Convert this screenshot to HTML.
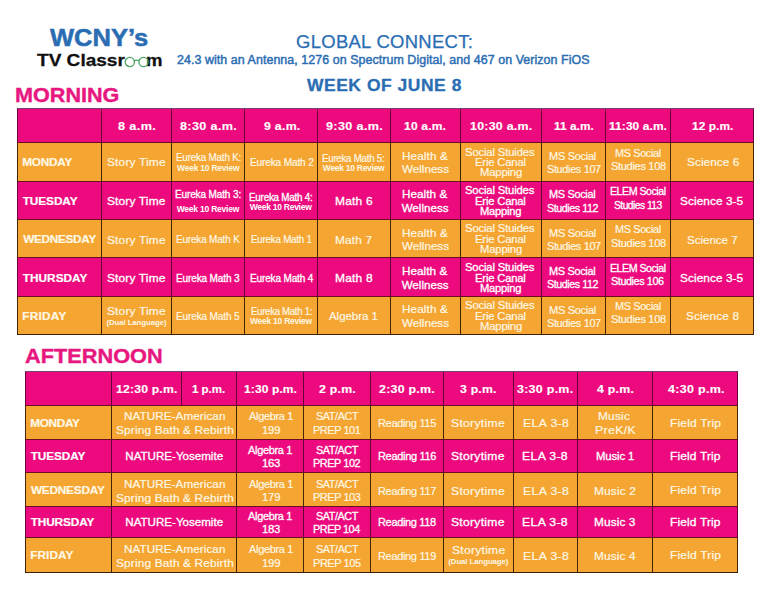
<!DOCTYPE html>
<html><head><meta charset="utf-8"><title>WCNY TV Classroom - Global Connect</title>
<style>
*{margin:0;padding:0;box-sizing:border-box}
html,body{width:768px;height:593px;background:#fff;overflow:hidden;font-family:"Liberation Sans",sans-serif}
.bg,.hl,.vl,.t,.gl{position:absolute}
.hl{height:1px;background:#3a2626}
.vl{width:1px;background:#3a2626}
.t{white-space:nowrap}
</style></head><body>
<div class="bg" style="left:17.50px;top:108.50px;width:736.00px;height:33.50px;background:#ec0a7e"></div>
<div class="bg" style="left:17.50px;top:142.00px;width:736.00px;height:39.00px;background:#f5a532"></div>
<div class="bg" style="left:17.50px;top:181.00px;width:736.00px;height:38.00px;background:#ec0a7e"></div>
<div class="bg" style="left:17.50px;top:219.00px;width:736.00px;height:38.00px;background:#f5a532"></div>
<div class="bg" style="left:17.50px;top:257.00px;width:736.00px;height:39.00px;background:#ec0a7e"></div>
<div class="bg" style="left:17.50px;top:296.00px;width:736.00px;height:38.00px;background:#f5a532"></div>
<div class="vl" style="left:17.00px;top:108.00px;height:34.50px;background:#660536"></div>
<div class="vl" style="left:100.50px;top:108.00px;height:34.50px;background:#660536"></div>
<div class="vl" style="left:170.50px;top:108.00px;height:34.50px;background:#660536"></div>
<div class="vl" style="left:244.00px;top:108.00px;height:34.50px;background:#660536"></div>
<div class="vl" style="left:317.00px;top:108.00px;height:34.50px;background:#660536"></div>
<div class="vl" style="left:389.50px;top:108.00px;height:34.50px;background:#660536"></div>
<div class="vl" style="left:459.50px;top:108.00px;height:34.50px;background:#660536"></div>
<div class="vl" style="left:540.50px;top:108.00px;height:34.50px;background:#660536"></div>
<div class="vl" style="left:604.50px;top:108.00px;height:34.50px;background:#660536"></div>
<div class="vl" style="left:670.00px;top:108.00px;height:34.50px;background:#660536"></div>
<div class="vl" style="left:753.00px;top:108.00px;height:34.50px;background:#660536"></div>
<div class="vl" style="left:17.00px;top:141.50px;height:40.00px;background:#452508"></div>
<div class="vl" style="left:100.50px;top:141.50px;height:40.00px;background:#452508"></div>
<div class="vl" style="left:170.50px;top:141.50px;height:40.00px;background:#452508"></div>
<div class="vl" style="left:244.00px;top:141.50px;height:40.00px;background:#452508"></div>
<div class="vl" style="left:317.00px;top:141.50px;height:40.00px;background:#452508"></div>
<div class="vl" style="left:389.50px;top:141.50px;height:40.00px;background:#452508"></div>
<div class="vl" style="left:459.50px;top:141.50px;height:40.00px;background:#452508"></div>
<div class="vl" style="left:540.50px;top:141.50px;height:40.00px;background:#452508"></div>
<div class="vl" style="left:604.50px;top:141.50px;height:40.00px;background:#452508"></div>
<div class="vl" style="left:670.00px;top:141.50px;height:40.00px;background:#452508"></div>
<div class="vl" style="left:753.00px;top:141.50px;height:40.00px;background:#452508"></div>
<div class="vl" style="left:17.00px;top:180.50px;height:39.00px;background:#660536"></div>
<div class="vl" style="left:100.50px;top:180.50px;height:39.00px;background:#660536"></div>
<div class="vl" style="left:170.50px;top:180.50px;height:39.00px;background:#660536"></div>
<div class="vl" style="left:244.00px;top:180.50px;height:39.00px;background:#660536"></div>
<div class="vl" style="left:317.00px;top:180.50px;height:39.00px;background:#660536"></div>
<div class="vl" style="left:389.50px;top:180.50px;height:39.00px;background:#660536"></div>
<div class="vl" style="left:459.50px;top:180.50px;height:39.00px;background:#660536"></div>
<div class="vl" style="left:540.50px;top:180.50px;height:39.00px;background:#660536"></div>
<div class="vl" style="left:604.50px;top:180.50px;height:39.00px;background:#660536"></div>
<div class="vl" style="left:670.00px;top:180.50px;height:39.00px;background:#660536"></div>
<div class="vl" style="left:753.00px;top:180.50px;height:39.00px;background:#660536"></div>
<div class="vl" style="left:17.00px;top:218.50px;height:39.00px;background:#452508"></div>
<div class="vl" style="left:100.50px;top:218.50px;height:39.00px;background:#452508"></div>
<div class="vl" style="left:170.50px;top:218.50px;height:39.00px;background:#452508"></div>
<div class="vl" style="left:244.00px;top:218.50px;height:39.00px;background:#452508"></div>
<div class="vl" style="left:317.00px;top:218.50px;height:39.00px;background:#452508"></div>
<div class="vl" style="left:389.50px;top:218.50px;height:39.00px;background:#452508"></div>
<div class="vl" style="left:459.50px;top:218.50px;height:39.00px;background:#452508"></div>
<div class="vl" style="left:540.50px;top:218.50px;height:39.00px;background:#452508"></div>
<div class="vl" style="left:604.50px;top:218.50px;height:39.00px;background:#452508"></div>
<div class="vl" style="left:670.00px;top:218.50px;height:39.00px;background:#452508"></div>
<div class="vl" style="left:753.00px;top:218.50px;height:39.00px;background:#452508"></div>
<div class="vl" style="left:17.00px;top:256.50px;height:40.00px;background:#660536"></div>
<div class="vl" style="left:100.50px;top:256.50px;height:40.00px;background:#660536"></div>
<div class="vl" style="left:170.50px;top:256.50px;height:40.00px;background:#660536"></div>
<div class="vl" style="left:244.00px;top:256.50px;height:40.00px;background:#660536"></div>
<div class="vl" style="left:317.00px;top:256.50px;height:40.00px;background:#660536"></div>
<div class="vl" style="left:389.50px;top:256.50px;height:40.00px;background:#660536"></div>
<div class="vl" style="left:459.50px;top:256.50px;height:40.00px;background:#660536"></div>
<div class="vl" style="left:540.50px;top:256.50px;height:40.00px;background:#660536"></div>
<div class="vl" style="left:604.50px;top:256.50px;height:40.00px;background:#660536"></div>
<div class="vl" style="left:670.00px;top:256.50px;height:40.00px;background:#660536"></div>
<div class="vl" style="left:753.00px;top:256.50px;height:40.00px;background:#660536"></div>
<div class="vl" style="left:17.00px;top:295.50px;height:39.00px;background:#452508"></div>
<div class="vl" style="left:100.50px;top:295.50px;height:39.00px;background:#452508"></div>
<div class="vl" style="left:170.50px;top:295.50px;height:39.00px;background:#452508"></div>
<div class="vl" style="left:244.00px;top:295.50px;height:39.00px;background:#452508"></div>
<div class="vl" style="left:317.00px;top:295.50px;height:39.00px;background:#452508"></div>
<div class="vl" style="left:389.50px;top:295.50px;height:39.00px;background:#452508"></div>
<div class="vl" style="left:459.50px;top:295.50px;height:39.00px;background:#452508"></div>
<div class="vl" style="left:540.50px;top:295.50px;height:39.00px;background:#452508"></div>
<div class="vl" style="left:604.50px;top:295.50px;height:39.00px;background:#452508"></div>
<div class="vl" style="left:670.00px;top:295.50px;height:39.00px;background:#452508"></div>
<div class="vl" style="left:753.00px;top:295.50px;height:39.00px;background:#452508"></div>
<div class="hl" style="left:17.00px;top:108.00px;width:737.00px;background:#7a4070"></div>
<div class="hl" style="left:17.00px;top:141.50px;width:737.00px;background:#6a0c22"></div>
<div class="hl" style="left:17.00px;top:180.50px;width:737.00px;background:#6a0c22"></div>
<div class="hl" style="left:17.00px;top:218.50px;width:737.00px;background:#6a0c22"></div>
<div class="hl" style="left:17.00px;top:256.50px;width:737.00px;background:#6a0c22"></div>
<div class="hl" style="left:17.00px;top:295.50px;width:737.00px;background:#6a0c22"></div>
<div class="hl" style="left:17.00px;top:333.50px;width:737.00px;background:#3a2208"></div>
<div class="bg" style="left:25.00px;top:371.00px;width:712.00px;height:34.00px;background:#ec0a7e"></div>
<div class="bg" style="left:25.00px;top:405.00px;width:712.00px;height:34.00px;background:#f5a532"></div>
<div class="bg" style="left:25.00px;top:439.00px;width:712.00px;height:33.50px;background:#ec0a7e"></div>
<div class="bg" style="left:25.00px;top:472.50px;width:712.00px;height:33.50px;background:#f5a532"></div>
<div class="bg" style="left:25.00px;top:506.00px;width:712.00px;height:31.50px;background:#ec0a7e"></div>
<div class="bg" style="left:25.00px;top:537.50px;width:712.00px;height:34.50px;background:#f5a532"></div>
<div class="vl" style="left:24.50px;top:370.50px;height:35.00px;background:#660536"></div>
<div class="vl" style="left:110.50px;top:370.50px;height:35.00px;background:#660536"></div>
<div class="vl" style="left:180.50px;top:370.50px;height:35.00px;background:#660536"></div>
<div class="vl" style="left:236.00px;top:370.50px;height:35.00px;background:#660536"></div>
<div class="vl" style="left:303.00px;top:370.50px;height:35.00px;background:#660536"></div>
<div class="vl" style="left:370.00px;top:370.50px;height:35.00px;background:#660536"></div>
<div class="vl" style="left:442.50px;top:370.50px;height:35.00px;background:#660536"></div>
<div class="vl" style="left:512.50px;top:370.50px;height:35.00px;background:#660536"></div>
<div class="vl" style="left:576.50px;top:370.50px;height:35.00px;background:#660536"></div>
<div class="vl" style="left:652.00px;top:370.50px;height:35.00px;background:#660536"></div>
<div class="vl" style="left:736.50px;top:370.50px;height:35.00px;background:#660536"></div>
<div class="vl" style="left:24.50px;top:404.50px;height:35.00px;background:#452508"></div>
<div class="vl" style="left:110.50px;top:404.50px;height:35.00px;background:#452508"></div>
<div class="vl" style="left:236.00px;top:404.50px;height:35.00px;background:#452508"></div>
<div class="vl" style="left:303.00px;top:404.50px;height:35.00px;background:#452508"></div>
<div class="vl" style="left:370.00px;top:404.50px;height:35.00px;background:#452508"></div>
<div class="vl" style="left:442.50px;top:404.50px;height:35.00px;background:#452508"></div>
<div class="vl" style="left:512.50px;top:404.50px;height:35.00px;background:#452508"></div>
<div class="vl" style="left:576.50px;top:404.50px;height:35.00px;background:#452508"></div>
<div class="vl" style="left:652.00px;top:404.50px;height:35.00px;background:#452508"></div>
<div class="vl" style="left:736.50px;top:404.50px;height:35.00px;background:#452508"></div>
<div class="vl" style="left:24.50px;top:438.50px;height:34.50px;background:#660536"></div>
<div class="vl" style="left:110.50px;top:438.50px;height:34.50px;background:#660536"></div>
<div class="vl" style="left:236.00px;top:438.50px;height:34.50px;background:#660536"></div>
<div class="vl" style="left:303.00px;top:438.50px;height:34.50px;background:#660536"></div>
<div class="vl" style="left:370.00px;top:438.50px;height:34.50px;background:#660536"></div>
<div class="vl" style="left:442.50px;top:438.50px;height:34.50px;background:#660536"></div>
<div class="vl" style="left:512.50px;top:438.50px;height:34.50px;background:#660536"></div>
<div class="vl" style="left:576.50px;top:438.50px;height:34.50px;background:#660536"></div>
<div class="vl" style="left:652.00px;top:438.50px;height:34.50px;background:#660536"></div>
<div class="vl" style="left:736.50px;top:438.50px;height:34.50px;background:#660536"></div>
<div class="vl" style="left:24.50px;top:472.00px;height:34.50px;background:#452508"></div>
<div class="vl" style="left:110.50px;top:472.00px;height:34.50px;background:#452508"></div>
<div class="vl" style="left:236.00px;top:472.00px;height:34.50px;background:#452508"></div>
<div class="vl" style="left:303.00px;top:472.00px;height:34.50px;background:#452508"></div>
<div class="vl" style="left:370.00px;top:472.00px;height:34.50px;background:#452508"></div>
<div class="vl" style="left:442.50px;top:472.00px;height:34.50px;background:#452508"></div>
<div class="vl" style="left:512.50px;top:472.00px;height:34.50px;background:#452508"></div>
<div class="vl" style="left:576.50px;top:472.00px;height:34.50px;background:#452508"></div>
<div class="vl" style="left:652.00px;top:472.00px;height:34.50px;background:#452508"></div>
<div class="vl" style="left:736.50px;top:472.00px;height:34.50px;background:#452508"></div>
<div class="vl" style="left:24.50px;top:505.50px;height:32.50px;background:#660536"></div>
<div class="vl" style="left:110.50px;top:505.50px;height:32.50px;background:#660536"></div>
<div class="vl" style="left:236.00px;top:505.50px;height:32.50px;background:#660536"></div>
<div class="vl" style="left:303.00px;top:505.50px;height:32.50px;background:#660536"></div>
<div class="vl" style="left:370.00px;top:505.50px;height:32.50px;background:#660536"></div>
<div class="vl" style="left:442.50px;top:505.50px;height:32.50px;background:#660536"></div>
<div class="vl" style="left:512.50px;top:505.50px;height:32.50px;background:#660536"></div>
<div class="vl" style="left:576.50px;top:505.50px;height:32.50px;background:#660536"></div>
<div class="vl" style="left:652.00px;top:505.50px;height:32.50px;background:#660536"></div>
<div class="vl" style="left:736.50px;top:505.50px;height:32.50px;background:#660536"></div>
<div class="vl" style="left:24.50px;top:537.00px;height:35.50px;background:#452508"></div>
<div class="vl" style="left:110.50px;top:537.00px;height:35.50px;background:#452508"></div>
<div class="vl" style="left:236.00px;top:537.00px;height:35.50px;background:#452508"></div>
<div class="vl" style="left:303.00px;top:537.00px;height:35.50px;background:#452508"></div>
<div class="vl" style="left:370.00px;top:537.00px;height:35.50px;background:#452508"></div>
<div class="vl" style="left:442.50px;top:537.00px;height:35.50px;background:#452508"></div>
<div class="vl" style="left:512.50px;top:537.00px;height:35.50px;background:#452508"></div>
<div class="vl" style="left:576.50px;top:537.00px;height:35.50px;background:#452508"></div>
<div class="vl" style="left:652.00px;top:537.00px;height:35.50px;background:#452508"></div>
<div class="vl" style="left:736.50px;top:537.00px;height:35.50px;background:#452508"></div>
<div class="hl" style="left:24.50px;top:370.50px;width:713.00px;background:#7a4070"></div>
<div class="hl" style="left:24.50px;top:404.50px;width:713.00px;background:#6a0c22"></div>
<div class="hl" style="left:24.50px;top:438.50px;width:713.00px;background:#6a0c22"></div>
<div class="hl" style="left:24.50px;top:472.00px;width:713.00px;background:#6a0c22"></div>
<div class="hl" style="left:24.50px;top:505.50px;width:713.00px;background:#6a0c22"></div>
<div class="hl" style="left:24.50px;top:537.00px;width:713.00px;background:#6a0c22"></div>
<div class="hl" style="left:24.50px;top:571.50px;width:713.00px;background:#3a2208"></div>
<div class="t" style="left:50.47px;top:26.50px;font-size:23.7px;line-height:23.7px;color:#2a6db3;font-weight:700;transform:scaleX(1.0773);transform-origin:0 0;-webkit-text-stroke:0.50px #2a6db3">WCNY’s</div>
<div class="t" style="left:37.31px;top:52.20px;font-size:17.4px;line-height:17.4px;color:#111111;font-weight:700;transform:scaleX(1.0950);transform-origin:0 0;-webkit-text-stroke:0.30px #111111">TV Classr</div>
<div class="t" style="left:146.17px;top:52.20px;font-size:17.4px;line-height:17.4px;color:#111111;font-weight:700;transform:scaleX(1.0660);transform-origin:0 0;-webkit-text-stroke:0.30px #111111">m</div>
<div class="t" style="left:296.34px;top:32.80px;font-size:18px;line-height:18px;color:#2a6db3;letter-spacing:0.30px;transform:scaleX(1.0251);transform-origin:0 0;-webkit-text-stroke:0.25px #2a6db3">GLOBAL CONNECT:</div>
<div class="t" style="left:177.23px;top:53.70px;font-size:12.3px;line-height:12.3px;color:#2a6db3;letter-spacing:0.06px;transform:scaleX(1.0106);transform-origin:0 0;-webkit-text-stroke:0.45px #2a6db3">24.3 with an Antenna, 1276 on Spectrum Digital, and 467 on Verizon FiOS</div>
<div class="t" style="left:306.62px;top:77.50px;font-size:15.6px;line-height:15.6px;color:#2a6db3;font-weight:700;letter-spacing:0.49px;transform:scaleX(1.1182);transform-origin:0 0;-webkit-text-stroke:0.30px #2a6db3">WEEK OF JUNE 8</div>
<div class="t" style="left:15.41px;top:85.90px;font-size:19.8px;line-height:19.8px;color:#e8177f;font-weight:700;transform:scaleX(1.0916);transform-origin:0 0;-webkit-text-stroke:0.40px #e8177f">MORNING</div>
<div class="t" style="left:25.35px;top:345.90px;font-size:20px;line-height:20px;color:#e8177f;font-weight:700;transform:scaleX(1.0874);transform-origin:0 0;-webkit-text-stroke:0.40px #e8177f">AFTERNOON</div>
<div class="t" style="left:117.75px;top:120.10px;font-size:11.6px;line-height:11.6px;color:#ffffff;font-weight:700;letter-spacing:0.37px;transform:scaleX(1.0886);transform-origin:0 0;-webkit-text-stroke:0.15px #ffffff">8 a.m.</div>
<div class="t" style="left:179.81px;top:120.10px;font-size:11.6px;line-height:11.6px;color:#ffffff;font-weight:700;letter-spacing:0.34px;transform:scaleX(1.0861);transform-origin:0 0;-webkit-text-stroke:0.15px #ffffff">8:30 a.m.</div>
<div class="t" style="left:263.68px;top:120.10px;font-size:11.6px;line-height:11.6px;color:#ffffff;font-weight:700;letter-spacing:0.26px;transform:scaleX(1.0619);transform-origin:0 0;-webkit-text-stroke:0.15px #ffffff">9 a.m.</div>
<div class="t" style="left:325.66px;top:120.10px;font-size:11.6px;line-height:11.6px;color:#ffffff;font-weight:700;letter-spacing:0.34px;transform:scaleX(1.0852);transform-origin:0 0;-webkit-text-stroke:0.15px #ffffff">9:30 a.m.</div>
<div class="t" style="left:404.24px;top:120.10px;font-size:11.6px;line-height:11.6px;color:#ffffff;font-weight:700;letter-spacing:0.17px;transform:scaleX(1.0400);transform-origin:0 0;-webkit-text-stroke:0.15px #ffffff">10 a.m.</div>
<div class="t" style="left:469.53px;top:120.10px;font-size:11.6px;line-height:11.6px;color:#ffffff;font-weight:700;letter-spacing:0.26px;transform:scaleX(1.0663);transform-origin:0 0;-webkit-text-stroke:0.15px #ffffff">10:30 a.m.</div>
<div class="t" style="left:553.84px;top:120.10px;font-size:11.6px;line-height:11.6px;color:#ffffff;font-weight:700;letter-spacing:0.07px;transform:scaleX(1.0169);transform-origin:0 0;-webkit-text-stroke:0.15px #ffffff">11 a.m.</div>
<div class="t" style="left:609.32px;top:120.10px;font-size:11.6px;line-height:11.6px;color:#ffffff;font-weight:700;letter-spacing:0.11px;transform:scaleX(1.0266);transform-origin:0 0;-webkit-text-stroke:0.15px #ffffff">11:30 a.m.</div>
<div class="t" style="left:691.84px;top:120.10px;font-size:11.6px;line-height:11.6px;color:#ffffff;font-weight:700;letter-spacing:0.09px;transform:scaleX(1.0210);transform-origin:0 0;-webkit-text-stroke:0.15px #ffffff">12 p.m.</div>
<div class="t" style="left:22.29px;top:156.90px;font-size:11.8px;line-height:11.8px;color:#fff8e4;font-weight:700;letter-spacing:-0.27px;-webkit-text-stroke:0.20px #fff8e4">MONDAY</div>
<div class="t" style="left:107.07px;top:156.30px;font-size:11.6px;line-height:11.6px;color:#fff8e4;letter-spacing:0.17px;transform:scaleX(1.0277);transform-origin:0 0;-webkit-text-stroke:0.20px #fff8e4">Story Time</div>
<div class="t" style="left:175.58px;top:153.30px;font-size:10.3px;line-height:10.3px;color:#fff8e4;letter-spacing:-0.22px;transform:scaleX(0.9589);transform-origin:0 0;-webkit-text-stroke:0.20px #fff8e4">Eureka Math K:</div>
<div class="t" style="left:177.05px;top:164.20px;font-size:8.5px;line-height:8.5px;color:#fff8e4;font-weight:700;letter-spacing:-0.23px">Week 10 Review</div>
<div class="t" style="left:249.54px;top:158.30px;font-size:10.3px;line-height:10.3px;color:#fff8e4;letter-spacing:-0.13px;transform:scaleX(0.9761);transform-origin:0 0;-webkit-text-stroke:0.20px #fff8e4">Eureka Math 2</div>
<div class="t" style="left:322.25px;top:153.50px;font-size:10.3px;line-height:10.3px;color:#fff8e4;letter-spacing:-0.28px;transform:scaleX(0.9456);transform-origin:0 0;-webkit-text-stroke:0.20px #fff8e4">Eureka Math 5:</div>
<div class="t" style="left:322.84px;top:164.20px;font-size:8.5px;line-height:8.5px;color:#fff8e4;font-weight:700;letter-spacing:-0.28px">Week 10 Review</div>
<div class="t" style="left:402.46px;top:150.00px;font-size:11.6px;line-height:11.6px;color:#fff8e4;letter-spacing:0.09px;transform:scaleX(1.0143);transform-origin:0 0;-webkit-text-stroke:0.20px #fff8e4">Health &amp;</div>
<div class="t" style="left:401.97px;top:163.30px;font-size:11.6px;line-height:11.6px;color:#fff8e4;letter-spacing:0.01px;transform:scaleX(1.0023);transform-origin:0 0;-webkit-text-stroke:0.20px #fff8e4">Wellness</div>
<div class="t" style="left:465.41px;top:146.00px;font-size:11.6px;line-height:11.6px;color:#fff8e4;letter-spacing:-0.15px;transform:scaleX(0.9736);transform-origin:0 0;-webkit-text-stroke:0.20px #fff8e4">Social Stuides</div>
<div class="t" style="left:475.17px;top:156.00px;font-size:11.6px;line-height:11.6px;color:#fff8e4;letter-spacing:-0.17px;transform:scaleX(0.9708);transform-origin:0 0;-webkit-text-stroke:0.20px #fff8e4">Erie Canal</div>
<div class="t" style="left:479.79px;top:166.00px;font-size:11.6px;line-height:11.6px;color:#fff8e4;letter-spacing:-0.19px;transform:scaleX(0.9731);transform-origin:0 0;-webkit-text-stroke:0.20px #fff8e4">Mapping</div>
<div class="t" style="left:549.31px;top:150.00px;font-size:11.6px;line-height:11.6px;color:#fff8e4;letter-spacing:-0.31px;transform:scaleX(0.9506);transform-origin:0 0;-webkit-text-stroke:0.20px #fff8e4">MS Social</div>
<div class="t" style="left:546.51px;top:163.30px;font-size:11.6px;line-height:11.6px;color:#fff8e4;letter-spacing:-0.36px;transform:scaleX(0.9401);transform-origin:0 0;-webkit-text-stroke:0.20px #fff8e4">Studies 107</div>
<div class="t" style="left:614.67px;top:146.70px;font-size:11.6px;line-height:11.6px;color:#fff8e4;letter-spacing:-0.38px;transform:scaleX(0.9378);transform-origin:0 0;-webkit-text-stroke:0.20px #fff8e4">MS Social</div>
<div class="t" style="left:610.88px;top:160.00px;font-size:11.6px;line-height:11.6px;color:#fff8e4;letter-spacing:-0.31px;transform:scaleX(0.9482);transform-origin:0 0;-webkit-text-stroke:0.20px #fff8e4">Studies 108</div>
<div class="t" style="left:686.54px;top:156.30px;font-size:11.6px;line-height:11.6px;color:#fff8e4;letter-spacing:0.08px;transform:scaleX(1.0137);transform-origin:0 0;-webkit-text-stroke:0.20px #fff8e4">Science 6</div>
<div class="t" style="left:22.68px;top:195.80px;font-size:11.8px;line-height:11.8px;color:#ffffff;font-weight:700;letter-spacing:-0.06px;-webkit-text-stroke:0.20px #ffffff">TUESDAY</div>
<div class="t" style="left:106.86px;top:195.20px;font-size:11.6px;line-height:11.6px;color:#ffffff;letter-spacing:0.16px;transform:scaleX(1.0261);transform-origin:0 0;-webkit-text-stroke:0.32px #ffffff">Story Time</div>
<div class="t" style="left:175.19px;top:190.30px;font-size:10.3px;line-height:10.3px;color:#ffffff;letter-spacing:-0.14px;transform:scaleX(0.9729);transform-origin:0 0;-webkit-text-stroke:0.32px #ffffff">Eureka Math 3:</div>
<div class="t" style="left:176.69px;top:205.30px;font-size:8.5px;line-height:8.5px;color:#ffffff;font-weight:700;letter-spacing:-0.22px">Week 10 Review</div>
<div class="t" style="left:249.40px;top:192.70px;font-size:10.3px;line-height:10.3px;color:#ffffff;letter-spacing:-0.23px;transform:scaleX(0.9549);transform-origin:0 0;-webkit-text-stroke:0.32px #ffffff">Eureka Math 4:</div>
<div class="t" style="left:249.78px;top:203.00px;font-size:8.5px;line-height:8.5px;color:#ffffff;font-weight:700;letter-spacing:-0.27px">Week 10 Review</div>
<div class="t" style="left:334.64px;top:195.20px;font-size:11.6px;line-height:11.6px;color:#ffffff;letter-spacing:0.20px;transform:scaleX(1.0305);transform-origin:0 0;-webkit-text-stroke:0.32px #ffffff">Math 6</div>
<div class="t" style="left:401.77px;top:188.30px;font-size:11.6px;line-height:11.6px;color:#ffffff;letter-spacing:0.05px;transform:scaleX(1.0084);transform-origin:0 0;-webkit-text-stroke:0.32px #ffffff">Health &amp;</div>
<div class="t" style="left:401.64px;top:202.30px;font-size:11.6px;line-height:11.6px;color:#ffffff;letter-spacing:0.01px;-webkit-text-stroke:0.32px #ffffff">Wellness</div>
<div class="t" style="left:465.32px;top:184.00px;font-size:11.6px;line-height:11.6px;color:#ffffff;letter-spacing:-0.16px;transform:scaleX(0.9711);transform-origin:0 0;-webkit-text-stroke:0.32px #ffffff">Social Stuides</div>
<div class="t" style="left:475.02px;top:195.00px;font-size:11.6px;line-height:11.6px;color:#ffffff;letter-spacing:-0.18px;transform:scaleX(0.9682);transform-origin:0 0;-webkit-text-stroke:0.32px #ffffff">Erie Canal</div>
<div class="t" style="left:479.62px;top:205.00px;font-size:11.6px;line-height:11.6px;color:#ffffff;letter-spacing:-0.24px;transform:scaleX(0.9668);transform-origin:0 0;-webkit-text-stroke:0.32px #ffffff">Mapping</div>
<div class="t" style="left:549.24px;top:188.30px;font-size:11.6px;line-height:11.6px;color:#ffffff;letter-spacing:-0.35px;transform:scaleX(0.9427);transform-origin:0 0;-webkit-text-stroke:0.32px #ffffff">MS Social</div>
<div class="t" style="left:547.35px;top:201.70px;font-size:11.6px;line-height:11.6px;color:#ffffff;letter-spacing:-0.46px;transform:scaleX(0.9220);transform-origin:0 0;-webkit-text-stroke:0.32px #ffffff">Studies 112</div>
<div class="t" style="left:610.34px;top:185.00px;font-size:11.6px;line-height:11.6px;color:#ffffff;letter-spacing:-0.53px;transform:scaleX(0.9172);transform-origin:0 0;-webkit-text-stroke:0.32px #ffffff">ELEM Social</div>
<div class="t" style="left:613.94px;top:199.00px;font-size:11.6px;line-height:11.6px;color:#ffffff;letter-spacing:-0.63px;transform:scaleX(0.8924);transform-origin:0 0;-webkit-text-stroke:0.32px #ffffff">Studies 113</div>
<div class="t" style="left:680.32px;top:195.20px;font-size:11.6px;line-height:11.6px;color:#ffffff;letter-spacing:0.09px;transform:scaleX(1.0156);transform-origin:0 0;-webkit-text-stroke:0.32px #ffffff">Science 3-5</div>
<div class="t" style="left:23.21px;top:234.10px;font-size:11.8px;line-height:11.8px;color:#fff8e4;font-weight:700;letter-spacing:-0.31px;-webkit-text-stroke:0.20px #fff8e4">WEDNESDAY</div>
<div class="t" style="left:107.07px;top:233.80px;font-size:11.6px;line-height:11.6px;color:#fff8e4;letter-spacing:0.17px;transform:scaleX(1.0277);transform-origin:0 0;-webkit-text-stroke:0.20px #fff8e4">Story Time</div>
<div class="t" style="left:176.27px;top:235.30px;font-size:10.3px;line-height:10.3px;color:#fff8e4;letter-spacing:-0.18px;transform:scaleX(0.9670);transform-origin:0 0;-webkit-text-stroke:0.20px #fff8e4">Eureka Math K</div>
<div class="t" style="left:251.21px;top:235.30px;font-size:10.3px;line-height:10.3px;color:#fff8e4;letter-spacing:-0.25px;transform:scaleX(0.9537);transform-origin:0 0;-webkit-text-stroke:0.20px #fff8e4">Eureka Math 1</div>
<div class="t" style="left:335.32px;top:233.80px;font-size:11.6px;line-height:11.6px;color:#fff8e4;letter-spacing:0.17px;transform:scaleX(1.0257);transform-origin:0 0;-webkit-text-stroke:0.20px #fff8e4">Math 7</div>
<div class="t" style="left:402.46px;top:226.70px;font-size:11.6px;line-height:11.6px;color:#fff8e4;letter-spacing:0.09px;transform:scaleX(1.0143);transform-origin:0 0;-webkit-text-stroke:0.20px #fff8e4">Health &amp;</div>
<div class="t" style="left:401.97px;top:240.00px;font-size:11.6px;line-height:11.6px;color:#fff8e4;letter-spacing:0.01px;transform:scaleX(1.0023);transform-origin:0 0;-webkit-text-stroke:0.20px #fff8e4">Wellness</div>
<div class="t" style="left:465.41px;top:222.00px;font-size:11.6px;line-height:11.6px;color:#fff8e4;letter-spacing:-0.15px;transform:scaleX(0.9736);transform-origin:0 0;-webkit-text-stroke:0.20px #fff8e4">Social Stuides</div>
<div class="t" style="left:475.17px;top:233.00px;font-size:11.6px;line-height:11.6px;color:#fff8e4;letter-spacing:-0.17px;transform:scaleX(0.9708);transform-origin:0 0;-webkit-text-stroke:0.20px #fff8e4">Erie Canal</div>
<div class="t" style="left:479.79px;top:243.00px;font-size:11.6px;line-height:11.6px;color:#fff8e4;letter-spacing:-0.19px;transform:scaleX(0.9731);transform-origin:0 0;-webkit-text-stroke:0.20px #fff8e4">Mapping</div>
<div class="t" style="left:549.31px;top:226.70px;font-size:11.6px;line-height:11.6px;color:#fff8e4;letter-spacing:-0.31px;transform:scaleX(0.9506);transform-origin:0 0;-webkit-text-stroke:0.20px #fff8e4">MS Social</div>
<div class="t" style="left:546.51px;top:240.00px;font-size:11.6px;line-height:11.6px;color:#fff8e4;letter-spacing:-0.36px;transform:scaleX(0.9401);transform-origin:0 0;-webkit-text-stroke:0.20px #fff8e4">Studies 107</div>
<div class="t" style="left:614.67px;top:223.30px;font-size:11.6px;line-height:11.6px;color:#fff8e4;letter-spacing:-0.38px;transform:scaleX(0.9378);transform-origin:0 0;-webkit-text-stroke:0.20px #fff8e4">MS Social</div>
<div class="t" style="left:610.88px;top:236.70px;font-size:11.6px;line-height:11.6px;color:#fff8e4;letter-spacing:-0.31px;transform:scaleX(0.9482);transform-origin:0 0;-webkit-text-stroke:0.20px #fff8e4">Studies 108</div>
<div class="t" style="left:686.53px;top:233.50px;font-size:11.6px;line-height:11.6px;color:#fff8e4;letter-spacing:-0.02px;transform:scaleX(0.9973);transform-origin:0 0;-webkit-text-stroke:0.20px #fff8e4">Science 7</div>
<div class="t" style="left:22.68px;top:272.60px;font-size:11.8px;line-height:11.8px;color:#ffffff;font-weight:700;letter-spacing:0.05px;-webkit-text-stroke:0.20px #ffffff">THURSDAY</div>
<div class="t" style="left:106.86px;top:272.30px;font-size:11.6px;line-height:11.6px;color:#ffffff;letter-spacing:0.16px;transform:scaleX(1.0261);transform-origin:0 0;-webkit-text-stroke:0.32px #ffffff">Story Time</div>
<div class="t" style="left:176.19px;top:273.70px;font-size:10.3px;line-height:10.3px;color:#ffffff;letter-spacing:-0.14px;transform:scaleX(0.9743);transform-origin:0 0;-webkit-text-stroke:0.32px #ffffff">Eureka Math 3</div>
<div class="t" style="left:249.70px;top:273.70px;font-size:10.3px;line-height:10.3px;color:#ffffff;letter-spacing:-0.15px;transform:scaleX(0.9717);transform-origin:0 0;-webkit-text-stroke:0.32px #ffffff">Eureka Math 4</div>
<div class="t" style="left:334.64px;top:272.00px;font-size:11.6px;line-height:11.6px;color:#ffffff;letter-spacing:0.20px;transform:scaleX(1.0302);transform-origin:0 0;-webkit-text-stroke:0.32px #ffffff">Math 8</div>
<div class="t" style="left:401.77px;top:265.00px;font-size:11.6px;line-height:11.6px;color:#ffffff;letter-spacing:0.05px;transform:scaleX(1.0084);transform-origin:0 0;-webkit-text-stroke:0.32px #ffffff">Health &amp;</div>
<div class="t" style="left:401.64px;top:278.70px;font-size:11.6px;line-height:11.6px;color:#ffffff;letter-spacing:0.01px;-webkit-text-stroke:0.32px #ffffff">Wellness</div>
<div class="t" style="left:465.32px;top:261.00px;font-size:11.6px;line-height:11.6px;color:#ffffff;letter-spacing:-0.16px;transform:scaleX(0.9711);transform-origin:0 0;-webkit-text-stroke:0.32px #ffffff">Social Stuides</div>
<div class="t" style="left:475.02px;top:272.00px;font-size:11.6px;line-height:11.6px;color:#ffffff;letter-spacing:-0.18px;transform:scaleX(0.9682);transform-origin:0 0;-webkit-text-stroke:0.32px #ffffff">Erie Canal</div>
<div class="t" style="left:479.62px;top:282.00px;font-size:11.6px;line-height:11.6px;color:#ffffff;letter-spacing:-0.24px;transform:scaleX(0.9668);transform-origin:0 0;-webkit-text-stroke:0.32px #ffffff">Mapping</div>
<div class="t" style="left:549.24px;top:265.00px;font-size:11.6px;line-height:11.6px;color:#ffffff;letter-spacing:-0.35px;transform:scaleX(0.9427);transform-origin:0 0;-webkit-text-stroke:0.32px #ffffff">MS Social</div>
<div class="t" style="left:547.35px;top:278.30px;font-size:11.6px;line-height:11.6px;color:#ffffff;letter-spacing:-0.46px;transform:scaleX(0.9220);transform-origin:0 0;-webkit-text-stroke:0.32px #ffffff">Studies 112</div>
<div class="t" style="left:610.34px;top:261.70px;font-size:11.6px;line-height:11.6px;color:#ffffff;letter-spacing:-0.53px;transform:scaleX(0.9172);transform-origin:0 0;-webkit-text-stroke:0.32px #ffffff">ELEM Social</div>
<div class="t" style="left:611.34px;top:275.30px;font-size:11.6px;line-height:11.6px;color:#ffffff;letter-spacing:-0.42px;transform:scaleX(0.9292);transform-origin:0 0;-webkit-text-stroke:0.32px #ffffff">Studies 106</div>
<div class="t" style="left:680.32px;top:272.20px;font-size:11.6px;line-height:11.6px;color:#ffffff;letter-spacing:0.09px;transform:scaleX(1.0156);transform-origin:0 0;-webkit-text-stroke:0.32px #ffffff">Science 3-5</div>
<div class="t" style="left:22.29px;top:310.60px;font-size:11.8px;line-height:11.8px;color:#fff8e4;font-weight:700;letter-spacing:0.24px;-webkit-text-stroke:0.20px #fff8e4">FRIDAY</div>
<div class="t" style="left:107.07px;top:305.00px;font-size:11.6px;line-height:11.6px;color:#fff8e4;letter-spacing:0.17px;transform:scaleX(1.0277);transform-origin:0 0;-webkit-text-stroke:0.20px #fff8e4">Story Time</div>
<div class="t" style="left:106.41px;top:319.30px;font-size:7.8px;line-height:7.8px;color:#fff8e4;font-weight:700;letter-spacing:-0.07px">(Dual Language)</div>
<div class="t" style="left:176.26px;top:312.30px;font-size:10.3px;line-height:10.3px;color:#fff8e4;letter-spacing:-0.14px;transform:scaleX(0.9743);transform-origin:0 0;-webkit-text-stroke:0.20px #fff8e4">Eureka Math 5</div>
<div class="t" style="left:251.26px;top:307.00px;font-size:10.3px;line-height:10.3px;color:#fff8e4;letter-spacing:-0.33px;transform:scaleX(0.9366);transform-origin:0 0;-webkit-text-stroke:0.20px #fff8e4">Eureka Math 1:</div>
<div class="t" style="left:249.91px;top:317.30px;font-size:8.5px;line-height:8.5px;color:#fff8e4;font-weight:700;letter-spacing:-0.25px">Week 10 Review</div>
<div class="t" style="left:329.36px;top:310.00px;font-size:11.6px;line-height:11.6px;color:#fff8e4;letter-spacing:-0.05px;transform:scaleX(0.9922);transform-origin:0 0;-webkit-text-stroke:0.20px #fff8e4">Algebra 1</div>
<div class="t" style="left:402.46px;top:303.30px;font-size:11.6px;line-height:11.6px;color:#fff8e4;letter-spacing:0.09px;transform:scaleX(1.0143);transform-origin:0 0;-webkit-text-stroke:0.20px #fff8e4">Health &amp;</div>
<div class="t" style="left:401.97px;top:317.00px;font-size:11.6px;line-height:11.6px;color:#fff8e4;letter-spacing:0.01px;transform:scaleX(1.0023);transform-origin:0 0;-webkit-text-stroke:0.20px #fff8e4">Wellness</div>
<div class="t" style="left:465.41px;top:299.00px;font-size:11.6px;line-height:11.6px;color:#fff8e4;letter-spacing:-0.15px;transform:scaleX(0.9736);transform-origin:0 0;-webkit-text-stroke:0.20px #fff8e4">Social Stuides</div>
<div class="t" style="left:475.17px;top:310.00px;font-size:11.6px;line-height:11.6px;color:#fff8e4;letter-spacing:-0.17px;transform:scaleX(0.9708);transform-origin:0 0;-webkit-text-stroke:0.20px #fff8e4">Erie Canal</div>
<div class="t" style="left:479.79px;top:320.00px;font-size:11.6px;line-height:11.6px;color:#fff8e4;letter-spacing:-0.19px;transform:scaleX(0.9731);transform-origin:0 0;-webkit-text-stroke:0.20px #fff8e4">Mapping</div>
<div class="t" style="left:549.31px;top:303.70px;font-size:11.6px;line-height:11.6px;color:#fff8e4;letter-spacing:-0.31px;transform:scaleX(0.9506);transform-origin:0 0;-webkit-text-stroke:0.20px #fff8e4">MS Social</div>
<div class="t" style="left:546.51px;top:317.00px;font-size:11.6px;line-height:11.6px;color:#fff8e4;letter-spacing:-0.36px;transform:scaleX(0.9401);transform-origin:0 0;-webkit-text-stroke:0.20px #fff8e4">Studies 107</div>
<div class="t" style="left:614.67px;top:300.00px;font-size:11.6px;line-height:11.6px;color:#fff8e4;letter-spacing:-0.38px;transform:scaleX(0.9378);transform-origin:0 0;-webkit-text-stroke:0.20px #fff8e4">MS Social</div>
<div class="t" style="left:610.88px;top:313.30px;font-size:11.6px;line-height:11.6px;color:#fff8e4;letter-spacing:-0.31px;transform:scaleX(0.9482);transform-origin:0 0;-webkit-text-stroke:0.20px #fff8e4">Studies 108</div>
<div class="t" style="left:686.43px;top:310.10px;font-size:11.6px;line-height:11.6px;color:#fff8e4;letter-spacing:0.13px;transform:scaleX(1.0207);transform-origin:0 0;-webkit-text-stroke:0.20px #fff8e4">Science 8</div>
<div class="t" style="left:115.50px;top:383.30px;font-size:11.6px;line-height:11.6px;color:#ffffff;font-weight:700;letter-spacing:0.20px;transform:scaleX(1.0484);transform-origin:0 0;-webkit-text-stroke:0.15px #ffffff">12:30 p.m.</div>
<div class="t" style="left:191.87px;top:383.30px;font-size:11.6px;line-height:11.6px;color:#ffffff;font-weight:700;letter-spacing:-0.03px;transform:scaleX(0.9929);transform-origin:0 0;-webkit-text-stroke:0.15px #ffffff">1 p.m.</div>
<div class="t" style="left:243.83px;top:383.30px;font-size:11.6px;line-height:11.6px;color:#ffffff;font-weight:700;letter-spacing:0.13px;transform:scaleX(1.0318);transform-origin:0 0;-webkit-text-stroke:0.15px #ffffff">1:30 p.m.</div>
<div class="t" style="left:318.93px;top:383.30px;font-size:11.6px;line-height:11.6px;color:#ffffff;font-weight:700;letter-spacing:0.24px;transform:scaleX(1.0571);transform-origin:0 0;-webkit-text-stroke:0.15px #ffffff">2 p.m.</div>
<div class="t" style="left:378.93px;top:383.30px;font-size:11.6px;line-height:11.6px;color:#ffffff;font-weight:700;letter-spacing:0.26px;transform:scaleX(1.0648);transform-origin:0 0;-webkit-text-stroke:0.15px #ffffff">2:30 p.m.</div>
<div class="t" style="left:460.25px;top:383.30px;font-size:11.6px;line-height:11.6px;color:#ffffff;font-weight:700;letter-spacing:0.22px;transform:scaleX(1.0526);transform-origin:0 0;-webkit-text-stroke:0.15px #ffffff">3 p.m.</div>
<div class="t" style="left:517.27px;top:383.30px;font-size:11.6px;line-height:11.6px;color:#ffffff;font-weight:700;letter-spacing:0.28px;transform:scaleX(1.0693);transform-origin:0 0;-webkit-text-stroke:0.15px #ffffff">3:30 p.m.</div>
<div class="t" style="left:596.66px;top:383.30px;font-size:11.6px;line-height:11.6px;color:#ffffff;font-weight:700;letter-spacing:0.26px;transform:scaleX(1.0605);transform-origin:0 0;-webkit-text-stroke:0.15px #ffffff">4 p.m.</div>
<div class="t" style="left:667.62px;top:383.30px;font-size:11.6px;line-height:11.6px;color:#ffffff;font-weight:700;letter-spacing:0.30px;transform:scaleX(1.0730);transform-origin:0 0;-webkit-text-stroke:0.15px #ffffff">4:30 p.m.</div>
<div class="t" style="left:30.29px;top:417.60px;font-size:11.8px;line-height:11.8px;color:#fff8e4;font-weight:700;letter-spacing:-0.33px;-webkit-text-stroke:0.20px #fff8e4">MONDAY</div>
<div class="t" style="left:123.56px;top:409.70px;font-size:11.6px;line-height:11.6px;color:#fff8e4;letter-spacing:0.06px;transform:scaleX(1.0092);transform-origin:0 0;-webkit-text-stroke:0.20px #fff8e4">NATURE-American</div>
<div class="t" style="left:115.67px;top:424.10px;font-size:11.6px;line-height:11.6px;color:#fff8e4;letter-spacing:0.14px;transform:scaleX(1.0247);transform-origin:0 0;-webkit-text-stroke:0.20px #fff8e4">Spring Bath &amp; Rebirth</div>
<div class="t" style="left:248.76px;top:409.70px;font-size:11.6px;line-height:11.6px;color:#fff8e4;letter-spacing:-0.33px;transform:scaleX(0.9460);transform-origin:0 0;-webkit-text-stroke:0.20px #fff8e4">Algebra 1</div>
<div class="t" style="left:261.61px;top:423.80px;font-size:11.6px;line-height:11.6px;color:#fff8e4;letter-spacing:-0.22px;transform:scaleX(0.9752);transform-origin:0 0;-webkit-text-stroke:0.20px #fff8e4">199</div>
<div class="t" style="left:315.89px;top:409.70px;font-size:11.6px;line-height:11.6px;color:#fff8e4;letter-spacing:-0.47px;transform:scaleX(0.9399);transform-origin:0 0;-webkit-text-stroke:0.20px #fff8e4">SAT/ACT</div>
<div class="t" style="left:312.67px;top:423.80px;font-size:11.6px;line-height:11.6px;color:#fff8e4;letter-spacing:-0.44px;transform:scaleX(0.9400);transform-origin:0 0;-webkit-text-stroke:0.20px #fff8e4">PREP 101</div>
<div class="t" style="left:377.55px;top:417.00px;font-size:11.6px;line-height:11.6px;color:#fff8e4;letter-spacing:-0.34px;transform:scaleX(0.9471);transform-origin:0 0;-webkit-text-stroke:0.20px #fff8e4">Reading 115</div>
<div class="t" style="left:451.45px;top:417.00px;font-size:11.6px;line-height:11.6px;color:#fff8e4;letter-spacing:0.28px;transform:scaleX(1.0475);transform-origin:0 0;-webkit-text-stroke:0.20px #fff8e4">Storytime</div>
<div class="t" style="left:522.56px;top:417.00px;font-size:11.6px;line-height:11.6px;color:#fff8e4;letter-spacing:0.37px;transform:scaleX(1.0555);transform-origin:0 0;-webkit-text-stroke:0.20px #fff8e4">ELA 3-8</div>
<div class="t" style="left:598.42px;top:409.70px;font-size:11.6px;line-height:11.6px;color:#fff8e4;letter-spacing:0.19px;transform:scaleX(1.0265);transform-origin:0 0;-webkit-text-stroke:0.20px #fff8e4">Music</div>
<div class="t" style="left:594.62px;top:423.80px;font-size:11.6px;line-height:11.6px;color:#fff8e4;letter-spacing:0.37px;transform:scaleX(1.0526);transform-origin:0 0;-webkit-text-stroke:0.20px #fff8e4">PreK/K</div>
<div class="t" style="left:669.76px;top:416.70px;font-size:11.6px;line-height:11.6px;color:#fff8e4;letter-spacing:0.17px;transform:scaleX(1.0344);transform-origin:0 0;-webkit-text-stroke:0.20px #fff8e4">Field Trip</div>
<div class="t" style="left:30.68px;top:450.90px;font-size:11.8px;line-height:11.8px;color:#ffffff;font-weight:700;letter-spacing:-0.10px;-webkit-text-stroke:0.20px #ffffff">TUESDAY</div>
<div class="t" style="left:125.31px;top:450.30px;font-size:11.6px;line-height:11.6px;color:#ffffff;letter-spacing:-0.01px;-webkit-text-stroke:0.32px #ffffff">NATURE-Yosemite</div>
<div class="t" style="left:248.20px;top:444.30px;font-size:11.6px;line-height:11.6px;color:#ffffff;letter-spacing:-0.33px;transform:scaleX(0.9462);transform-origin:0 0;-webkit-text-stroke:0.32px #ffffff">Algebra 1</div>
<div class="t" style="left:261.53px;top:457.00px;font-size:11.6px;line-height:11.6px;color:#ffffff;letter-spacing:-0.23px;transform:scaleX(0.9739);transform-origin:0 0;-webkit-text-stroke:0.32px #ffffff">163</div>
<div class="t" style="left:315.80px;top:444.30px;font-size:11.6px;line-height:11.6px;color:#ffffff;letter-spacing:-0.49px;transform:scaleX(0.9363);transform-origin:0 0;-webkit-text-stroke:0.32px #ffffff">SAT/ACT</div>
<div class="t" style="left:312.81px;top:457.00px;font-size:11.6px;line-height:11.6px;color:#ffffff;letter-spacing:-0.46px;transform:scaleX(0.9379);transform-origin:0 0;-webkit-text-stroke:0.32px #ffffff">PREP 102</div>
<div class="t" style="left:377.64px;top:450.30px;font-size:11.6px;line-height:11.6px;color:#ffffff;letter-spacing:-0.33px;transform:scaleX(0.9472);transform-origin:0 0;-webkit-text-stroke:0.32px #ffffff">Reading 116</div>
<div class="t" style="left:451.21px;top:450.30px;font-size:11.6px;line-height:11.6px;color:#ffffff;letter-spacing:0.27px;transform:scaleX(1.0450);transform-origin:0 0;-webkit-text-stroke:0.32px #ffffff">Storytime</div>
<div class="t" style="left:521.61px;top:450.30px;font-size:11.6px;line-height:11.6px;color:#ffffff;letter-spacing:0.35px;transform:scaleX(1.0524);transform-origin:0 0;-webkit-text-stroke:0.32px #ffffff">ELA 3-8</div>
<div class="t" style="left:595.53px;top:450.30px;font-size:11.6px;line-height:11.6px;color:#ffffff;letter-spacing:-0.13px;transform:scaleX(0.9799);transform-origin:0 0;-webkit-text-stroke:0.32px #ffffff">Music 1</div>
<div class="t" style="left:669.61px;top:450.00px;font-size:11.6px;line-height:11.6px;color:#ffffff;letter-spacing:0.15px;transform:scaleX(1.0301);transform-origin:0 0;-webkit-text-stroke:0.32px #ffffff">Field Trip</div>
<div class="t" style="left:30.96px;top:485.30px;font-size:11.8px;line-height:11.8px;color:#fff8e4;font-weight:700;letter-spacing:-0.22px;-webkit-text-stroke:0.20px #fff8e4">WEDNESDAY</div>
<div class="t" style="left:123.56px;top:477.50px;font-size:11.6px;line-height:11.6px;color:#fff8e4;letter-spacing:0.06px;transform:scaleX(1.0092);transform-origin:0 0;-webkit-text-stroke:0.20px #fff8e4">NATURE-American</div>
<div class="t" style="left:115.67px;top:491.60px;font-size:11.6px;line-height:11.6px;color:#fff8e4;letter-spacing:0.14px;transform:scaleX(1.0247);transform-origin:0 0;-webkit-text-stroke:0.20px #fff8e4">Spring Bath &amp; Rebirth</div>
<div class="t" style="left:248.76px;top:477.50px;font-size:11.6px;line-height:11.6px;color:#fff8e4;letter-spacing:-0.33px;transform:scaleX(0.9460);transform-origin:0 0;-webkit-text-stroke:0.20px #fff8e4">Algebra 1</div>
<div class="t" style="left:261.61px;top:491.30px;font-size:11.6px;line-height:11.6px;color:#fff8e4;letter-spacing:-0.22px;transform:scaleX(0.9752);transform-origin:0 0;-webkit-text-stroke:0.20px #fff8e4">179</div>
<div class="t" style="left:315.89px;top:477.50px;font-size:11.6px;line-height:11.6px;color:#fff8e4;letter-spacing:-0.47px;transform:scaleX(0.9399);transform-origin:0 0;-webkit-text-stroke:0.20px #fff8e4">SAT/ACT</div>
<div class="t" style="left:312.72px;top:491.30px;font-size:11.6px;line-height:11.6px;color:#fff8e4;letter-spacing:-0.44px;transform:scaleX(0.9407);transform-origin:0 0;-webkit-text-stroke:0.20px #fff8e4">PREP 103</div>
<div class="t" style="left:377.66px;top:484.70px;font-size:11.6px;line-height:11.6px;color:#fff8e4;letter-spacing:-0.33px;transform:scaleX(0.9471);transform-origin:0 0;-webkit-text-stroke:0.20px #fff8e4">Reading 117</div>
<div class="t" style="left:451.45px;top:484.70px;font-size:11.6px;line-height:11.6px;color:#fff8e4;letter-spacing:0.28px;transform:scaleX(1.0475);transform-origin:0 0;-webkit-text-stroke:0.20px #fff8e4">Storytime</div>
<div class="t" style="left:522.56px;top:484.70px;font-size:11.6px;line-height:11.6px;color:#fff8e4;letter-spacing:0.37px;transform:scaleX(1.0555);transform-origin:0 0;-webkit-text-stroke:0.20px #fff8e4">ELA 3-8</div>
<div class="t" style="left:594.12px;top:484.70px;font-size:11.6px;line-height:11.6px;color:#fff8e4;letter-spacing:0.16px;transform:scaleX(1.0248);transform-origin:0 0;-webkit-text-stroke:0.20px #fff8e4">Music 2</div>
<div class="t" style="left:669.76px;top:484.40px;font-size:11.6px;line-height:11.6px;color:#fff8e4;letter-spacing:0.17px;transform:scaleX(1.0344);transform-origin:0 0;-webkit-text-stroke:0.20px #fff8e4">Field Trip</div>
<div class="t" style="left:30.68px;top:516.90px;font-size:11.8px;line-height:11.8px;color:#ffffff;font-weight:700;letter-spacing:-0.11px;-webkit-text-stroke:0.20px #ffffff">THURSDAY</div>
<div class="t" style="left:125.31px;top:516.30px;font-size:11.6px;line-height:11.6px;color:#ffffff;letter-spacing:-0.01px;-webkit-text-stroke:0.32px #ffffff">NATURE-Yosemite</div>
<div class="t" style="left:248.20px;top:510.00px;font-size:11.6px;line-height:11.6px;color:#ffffff;letter-spacing:-0.33px;transform:scaleX(0.9462);transform-origin:0 0;-webkit-text-stroke:0.32px #ffffff">Algebra 1</div>
<div class="t" style="left:261.53px;top:523.00px;font-size:11.6px;line-height:11.6px;color:#ffffff;letter-spacing:-0.23px;transform:scaleX(0.9739);transform-origin:0 0;-webkit-text-stroke:0.32px #ffffff">183</div>
<div class="t" style="left:315.80px;top:510.00px;font-size:11.6px;line-height:11.6px;color:#ffffff;letter-spacing:-0.49px;transform:scaleX(0.9363);transform-origin:0 0;-webkit-text-stroke:0.32px #ffffff">SAT/ACT</div>
<div class="t" style="left:312.84px;top:523.00px;font-size:11.6px;line-height:11.6px;color:#ffffff;letter-spacing:-0.49px;transform:scaleX(0.9350);transform-origin:0 0;-webkit-text-stroke:0.32px #ffffff">PREP 104</div>
<div class="t" style="left:377.64px;top:516.30px;font-size:11.6px;line-height:11.6px;color:#ffffff;letter-spacing:-0.34px;transform:scaleX(0.9466);transform-origin:0 0;-webkit-text-stroke:0.32px #ffffff">Reading 118</div>
<div class="t" style="left:451.21px;top:516.30px;font-size:11.6px;line-height:11.6px;color:#ffffff;letter-spacing:0.27px;transform:scaleX(1.0450);transform-origin:0 0;-webkit-text-stroke:0.32px #ffffff">Storytime</div>
<div class="t" style="left:521.61px;top:516.30px;font-size:11.6px;line-height:11.6px;color:#ffffff;letter-spacing:0.35px;transform:scaleX(1.0524);transform-origin:0 0;-webkit-text-stroke:0.32px #ffffff">ELA 3-8</div>
<div class="t" style="left:593.55px;top:516.30px;font-size:11.6px;line-height:11.6px;color:#ffffff;letter-spacing:0.12px;transform:scaleX(1.0182);transform-origin:0 0;-webkit-text-stroke:0.32px #ffffff">Music 3</div>
<div class="t" style="left:669.61px;top:516.00px;font-size:11.6px;line-height:11.6px;color:#ffffff;letter-spacing:0.15px;transform:scaleX(1.0301);transform-origin:0 0;-webkit-text-stroke:0.32px #ffffff">Field Trip</div>
<div class="t" style="left:30.29px;top:550.30px;font-size:11.8px;line-height:11.8px;color:#fff8e4;font-weight:700;letter-spacing:0.04px;-webkit-text-stroke:0.20px #fff8e4">FRIDAY</div>
<div class="t" style="left:123.56px;top:543.30px;font-size:11.6px;line-height:11.6px;color:#fff8e4;letter-spacing:0.06px;transform:scaleX(1.0092);transform-origin:0 0;-webkit-text-stroke:0.20px #fff8e4">NATURE-American</div>
<div class="t" style="left:115.67px;top:557.20px;font-size:11.6px;line-height:11.6px;color:#fff8e4;letter-spacing:0.14px;transform:scaleX(1.0247);transform-origin:0 0;-webkit-text-stroke:0.20px #fff8e4">Spring Bath &amp; Rebirth</div>
<div class="t" style="left:248.76px;top:543.30px;font-size:11.6px;line-height:11.6px;color:#fff8e4;letter-spacing:-0.33px;transform:scaleX(0.9460);transform-origin:0 0;-webkit-text-stroke:0.20px #fff8e4">Algebra 1</div>
<div class="t" style="left:261.61px;top:556.90px;font-size:11.6px;line-height:11.6px;color:#fff8e4;letter-spacing:-0.22px;transform:scaleX(0.9752);transform-origin:0 0;-webkit-text-stroke:0.20px #fff8e4">199</div>
<div class="t" style="left:315.89px;top:543.30px;font-size:11.6px;line-height:11.6px;color:#fff8e4;letter-spacing:-0.47px;transform:scaleX(0.9399);transform-origin:0 0;-webkit-text-stroke:0.20px #fff8e4">SAT/ACT</div>
<div class="t" style="left:312.72px;top:556.90px;font-size:11.6px;line-height:11.6px;color:#fff8e4;letter-spacing:-0.43px;transform:scaleX(0.9427);transform-origin:0 0;-webkit-text-stroke:0.20px #fff8e4">PREP 105</div>
<div class="t" style="left:377.55px;top:549.70px;font-size:11.6px;line-height:11.6px;color:#fff8e4;letter-spacing:-0.34px;transform:scaleX(0.9471);transform-origin:0 0;-webkit-text-stroke:0.20px #fff8e4">Reading 119</div>
<div class="t" style="left:451.50px;top:544.20px;font-size:11.6px;line-height:11.6px;color:#fff8e4;letter-spacing:0.25px;transform:scaleX(1.0425);transform-origin:0 0;-webkit-text-stroke:0.20px #fff8e4">Storytime</div>
<div class="t" style="left:448.33px;top:558.00px;font-size:7.8px;line-height:7.8px;color:#fff8e4;font-weight:700;letter-spacing:-0.07px">(Dual Language)</div>
<div class="t" style="left:522.56px;top:549.70px;font-size:11.6px;line-height:11.6px;color:#fff8e4;letter-spacing:0.37px;transform:scaleX(1.0555);transform-origin:0 0;-webkit-text-stroke:0.20px #fff8e4">ELA 3-8</div>
<div class="t" style="left:594.12px;top:549.70px;font-size:11.6px;line-height:11.6px;color:#fff8e4;letter-spacing:0.13px;transform:scaleX(1.0207);transform-origin:0 0;-webkit-text-stroke:0.20px #fff8e4">Music 4</div>
<div class="t" style="left:669.76px;top:549.40px;font-size:11.6px;line-height:11.6px;color:#fff8e4;letter-spacing:0.17px;transform:scaleX(1.0344);transform-origin:0 0;-webkit-text-stroke:0.20px #fff8e4">Field Trip</div>
<svg class="gl" width="30" height="16" viewBox="0 0 30 16" style="left:121px;top:53px">
<g fill="none" stroke="#4ea462" stroke-width="1.35">
<circle cx="8.8" cy="9" r="4.6"/><circle cx="22.5" cy="9" r="4.6"/>
<path d="M13.2 7.6 Q15.6 6.6 18.1 7.6"/>
</g></svg>
</body></html>
